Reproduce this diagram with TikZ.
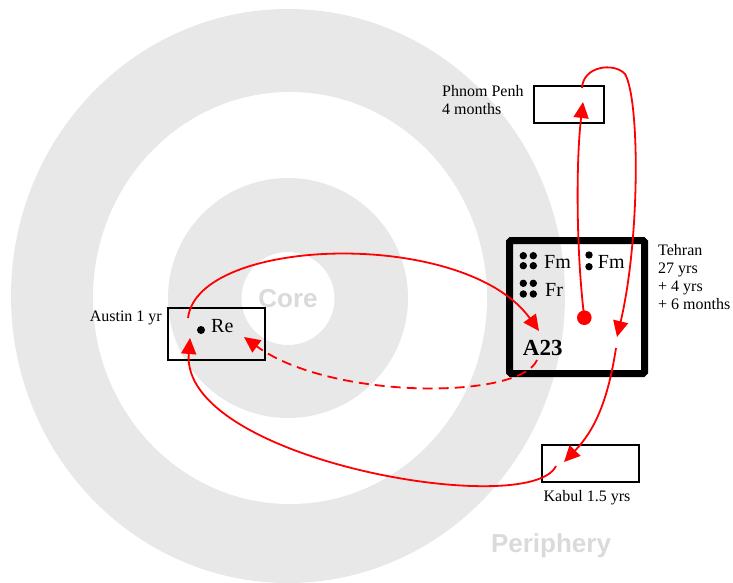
\documentclass[tikz,border=0pt]{standalone}
\usepackage{fontspec}
\setmainfont{Liberation Serif}
\newfontfamily\labelsans{Liberation Sans}
\usetikzlibrary{arrows.meta}
\definecolor{ringgray}{RGB}{232,232,232}
\definecolor{wordgray}{RGB}{218,218,218}
\definecolor{arrowred}{RGB}{255,0,0}
\begin{document}
\begin{tikzpicture}[x=1pt,y=-1pt,
  place/.style={draw=black,line width=1.6pt,inner sep=0pt},
  lbl/.style={inner sep=0pt,font=\fontsize{16}{18}\selectfont,align=left},
  zone/.style={inner sep=0pt,text=wordgray,font=\labelsans\bfseries\fontsize{26}{30}\selectfont},
  move/.style={draw=arrowred,line width=1.8pt,-{Triangle[length=16pt,width=15pt]}},
  big/.style={inner sep=0pt,font=\fontsize{20}{24}\selectfont}
]
\useasboundingbox (0,0) rectangle (733,583);
\begin{scope}
\clip (0,0) rectangle (733,583);
\fill[ringgray] (288,296) ellipse [x radius=277pt, y radius=287pt];
\fill[white] (290,298) ellipse [x radius=197pt, y radius=206pt];
\fill[ringgray] (288,298) circle [radius=120pt];
\fill[white] (288,298.5) circle [radius=46.5pt];
\end{scope}
\node[zone] (core) at (288,299) {Core};
\node[zone,anchor=base] (periphery) at (551,552) {Periphery};

% places
\node[place,minimum width=70pt,minimum height=37pt] (phnom) at (569,104.5) {};
\node[place,minimum width=97pt,minimum height=52pt] (austin) at (216.5,334) {};
\node[place,minimum width=97pt,minimum height=37pt] (kabul) at (590.5,463.5) {};
\node[draw=black,line width=7pt,rounded corners=1.5pt,inner sep=0pt,minimum width=135pt,minimum height=133pt] (tehran) at (577,307) {};

% labels
\node[lbl,anchor=base west] (phlab) at (442,115) {Phnom Penh\\4 months};
\node[lbl,anchor=base east] (aulab) at (162,321) {Austin 1 yr};
\node[lbl,anchor=base] (kblab) at (587,501.7) {Kabul 1.5 yrs};
\node[lbl,anchor=base west] (thlab) at (658,309) {Tehran\\27 yrs\\+ 4 yrs\\+ 6 months};

% Tehran contents
\fill (523.3,255.7) circle [radius=3.7pt];
\fill (533.3,255.7) circle [radius=3.7pt];
\fill (523.3,265.7) circle [radius=3.7pt];
\fill (533.3,265.7) circle [radius=3.7pt];
\node[big,anchor=base west] (fm1) at (544,268) {Fm};
\fill (589,255) circle [radius=3.7pt];
\fill (589,266.7) circle [radius=3.7pt];
\node[big,anchor=base west] (fm2) at (597.7,268) {Fm};
\fill (523.3,283.3) circle [radius=3.7pt];
\fill (533.3,283.3) circle [radius=3.7pt];
\fill (523.3,294) circle [radius=3.7pt];
\fill (533.3,294) circle [radius=3.7pt];
\node[big,anchor=base west] (fr) at (545,296.7) {Fr};
\node[inner sep=0pt,anchor=base west,font=\bfseries\fontsize{23}{27}\selectfont] (a23) at (522.7,355) {A23};
\node[circle,fill=arrowred,inner sep=0pt,minimum size=14.6pt] (tdot) at (584.3,317.7) {};

% Austin contents
\fill (201,330) circle [radius=4pt];
\node[big,anchor=base west] (re) at (211,332.7) {Re};

% connector ends
\coordinate (auOut) at (188,318);
\coordinate (a23In) at (539,331);
\coordinate (a23Out) at (537,360);
\coordinate (auIn2) at (244,337);
\coordinate (phIn) at (583,102);
\coordinate (phOut) at (582,88);
\coordinate (phTurn) at (625,74);
\coordinate (thIn) at (617,337);
\coordinate (thOut) at (616,348);
\coordinate (kbIn) at (564,462);
\coordinate (kbOut) at (556,466);
\coordinate (auIn) at (190,338);

% connectors
\draw[move] (auOut) .. controls (198,236) and (465,228) .. (a23In);
\draw[move,dash pattern=on 10pt off 6pt] (a23Out) .. controls (520,400) and (330,400) .. (auIn2);
\draw[move] (tdot.center) .. controls (576,250) and (576,160) .. (phIn);
\draw[move] (phOut) .. controls (583,66) and (614,62) .. (phTurn) .. controls (640,100) and (640,240) .. (thIn);
\draw[move] (thOut) .. controls (608,400) and (595,430) .. (kbIn);
\draw[move] (kbOut) .. controls (530,520) and (180,460) .. (auIn);
\end{tikzpicture}
\end{document}
